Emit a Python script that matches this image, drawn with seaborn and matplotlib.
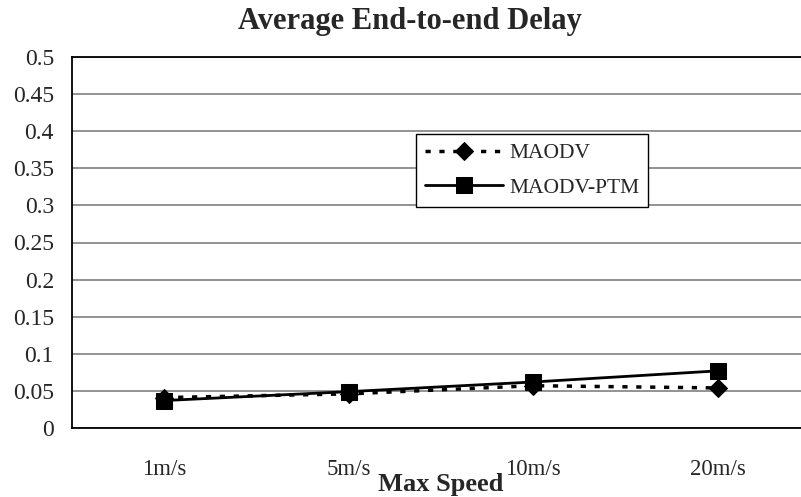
import matplotlib
matplotlib.use("Agg")
import matplotlib.pyplot as plt
import seaborn as sns
import pandas as pd

speeds = ["1m/s", "5m/s", "10m/s", "20m/s"]
maodv = [0.041, 0.046, 0.057, 0.054]
maodv_ptm = [0.037, 0.049, 0.062, 0.077]
yticks = [0, 0.05, 0.1, 0.15, 0.2, 0.25, 0.3, 0.35, 0.4, 0.45, 0.5]
ytick_labels = ["0", "0.05", "0.1", "0.15", "0.2", "0.25", "0.3", "0.35", "0.4", "0.45", "0.5"]

sns.set_style("white")
plt.rcParams["font.family"] = ["Liberation Serif", "DejaVu Serif"]

df1 = pd.DataFrame({"speed": speeds, "delay": maodv})
df2 = pd.DataFrame({"speed": speeds, "delay": maodv_ptm})

fig = plt.figure(figsize=(8.01, 4.97), dpi=100)
ax = fig.add_axes([72 / 801, (497 - 428) / 497, (810 - 72) / 801, (428 - 57) / 497])

sns.lineplot(data=df1, x="speed", y="delay", ax=ax, color="black", linewidth=2.5,
             marker="D", markersize=9.5, markeredgecolor="black", label="MAODV",
             sort=False, zorder=3)
ax.lines[-1].set_linestyle((0, (1.5, 2.5)))
sns.lineplot(data=df2, x="speed", y="delay", ax=ax, color="black", linewidth=2.0,
             marker="s", markersize=12, markeredgecolor="black", label="MAODV-PTM",
             sort=False, zorder=4)

ax.set_xlim(-0.5, 3.5)
ax.set_ylim(0, 0.5)
ax.set_yticks(yticks)
ax.set_yticklabels(ytick_labels)
ax.yaxis.grid(True, color="#808080", linewidth=1.2)
ax.set_axisbelow(True)

# x: category boundary tick marks (inside), labels at category centres
ax.set_xticks([0.5, 1.5, 2.5])
ax.set_xticklabels([])
ax.set_xticks(range(len(speeds)), minor=True)
ax.set_xticklabels(speeds, minor=True)
ax.tick_params(axis="x", which="major", direction="in", length=6, width=1, color="black")
ax.tick_params(axis="x", which="minor", length=0, pad=22, labelsize=16.5)
ax.tick_params(axis="y", which="major", direction="out", length=5, width=1.2,
               color="#808080", pad=8, labelsize=17)

for s in ax.spines.values():
    s.set_color("black")
    s.set_linewidth(1.3)

ax.set_xlabel("Max Speed", fontsize=19, fontweight="bold")
ax.xaxis.set_label_coords(0.5, -0.122)
ax.set_ylabel("")

fig.suptitle("Average End-to-end Delay", x=0.512, y=0.956, va="center",
             fontsize=22, fontweight="bold")

leg = ax.legend(loc="upper left", bbox_to_anchor=((416 - 72) / 738, (428 - 134) / 371),
                frameon=True, fancybox=False, shadow=False, fontsize=15.5,
                handlelength=3.6, handletextpad=0.3, borderpad=0.42,
                labelspacing=0.68, borderaxespad=0)
leg.get_frame().set_edgecolor("black")
leg.get_frame().set_linewidth(1.0)
leg.get_frame().set_alpha(1)

fig.savefig("out.png", dpi=100)
